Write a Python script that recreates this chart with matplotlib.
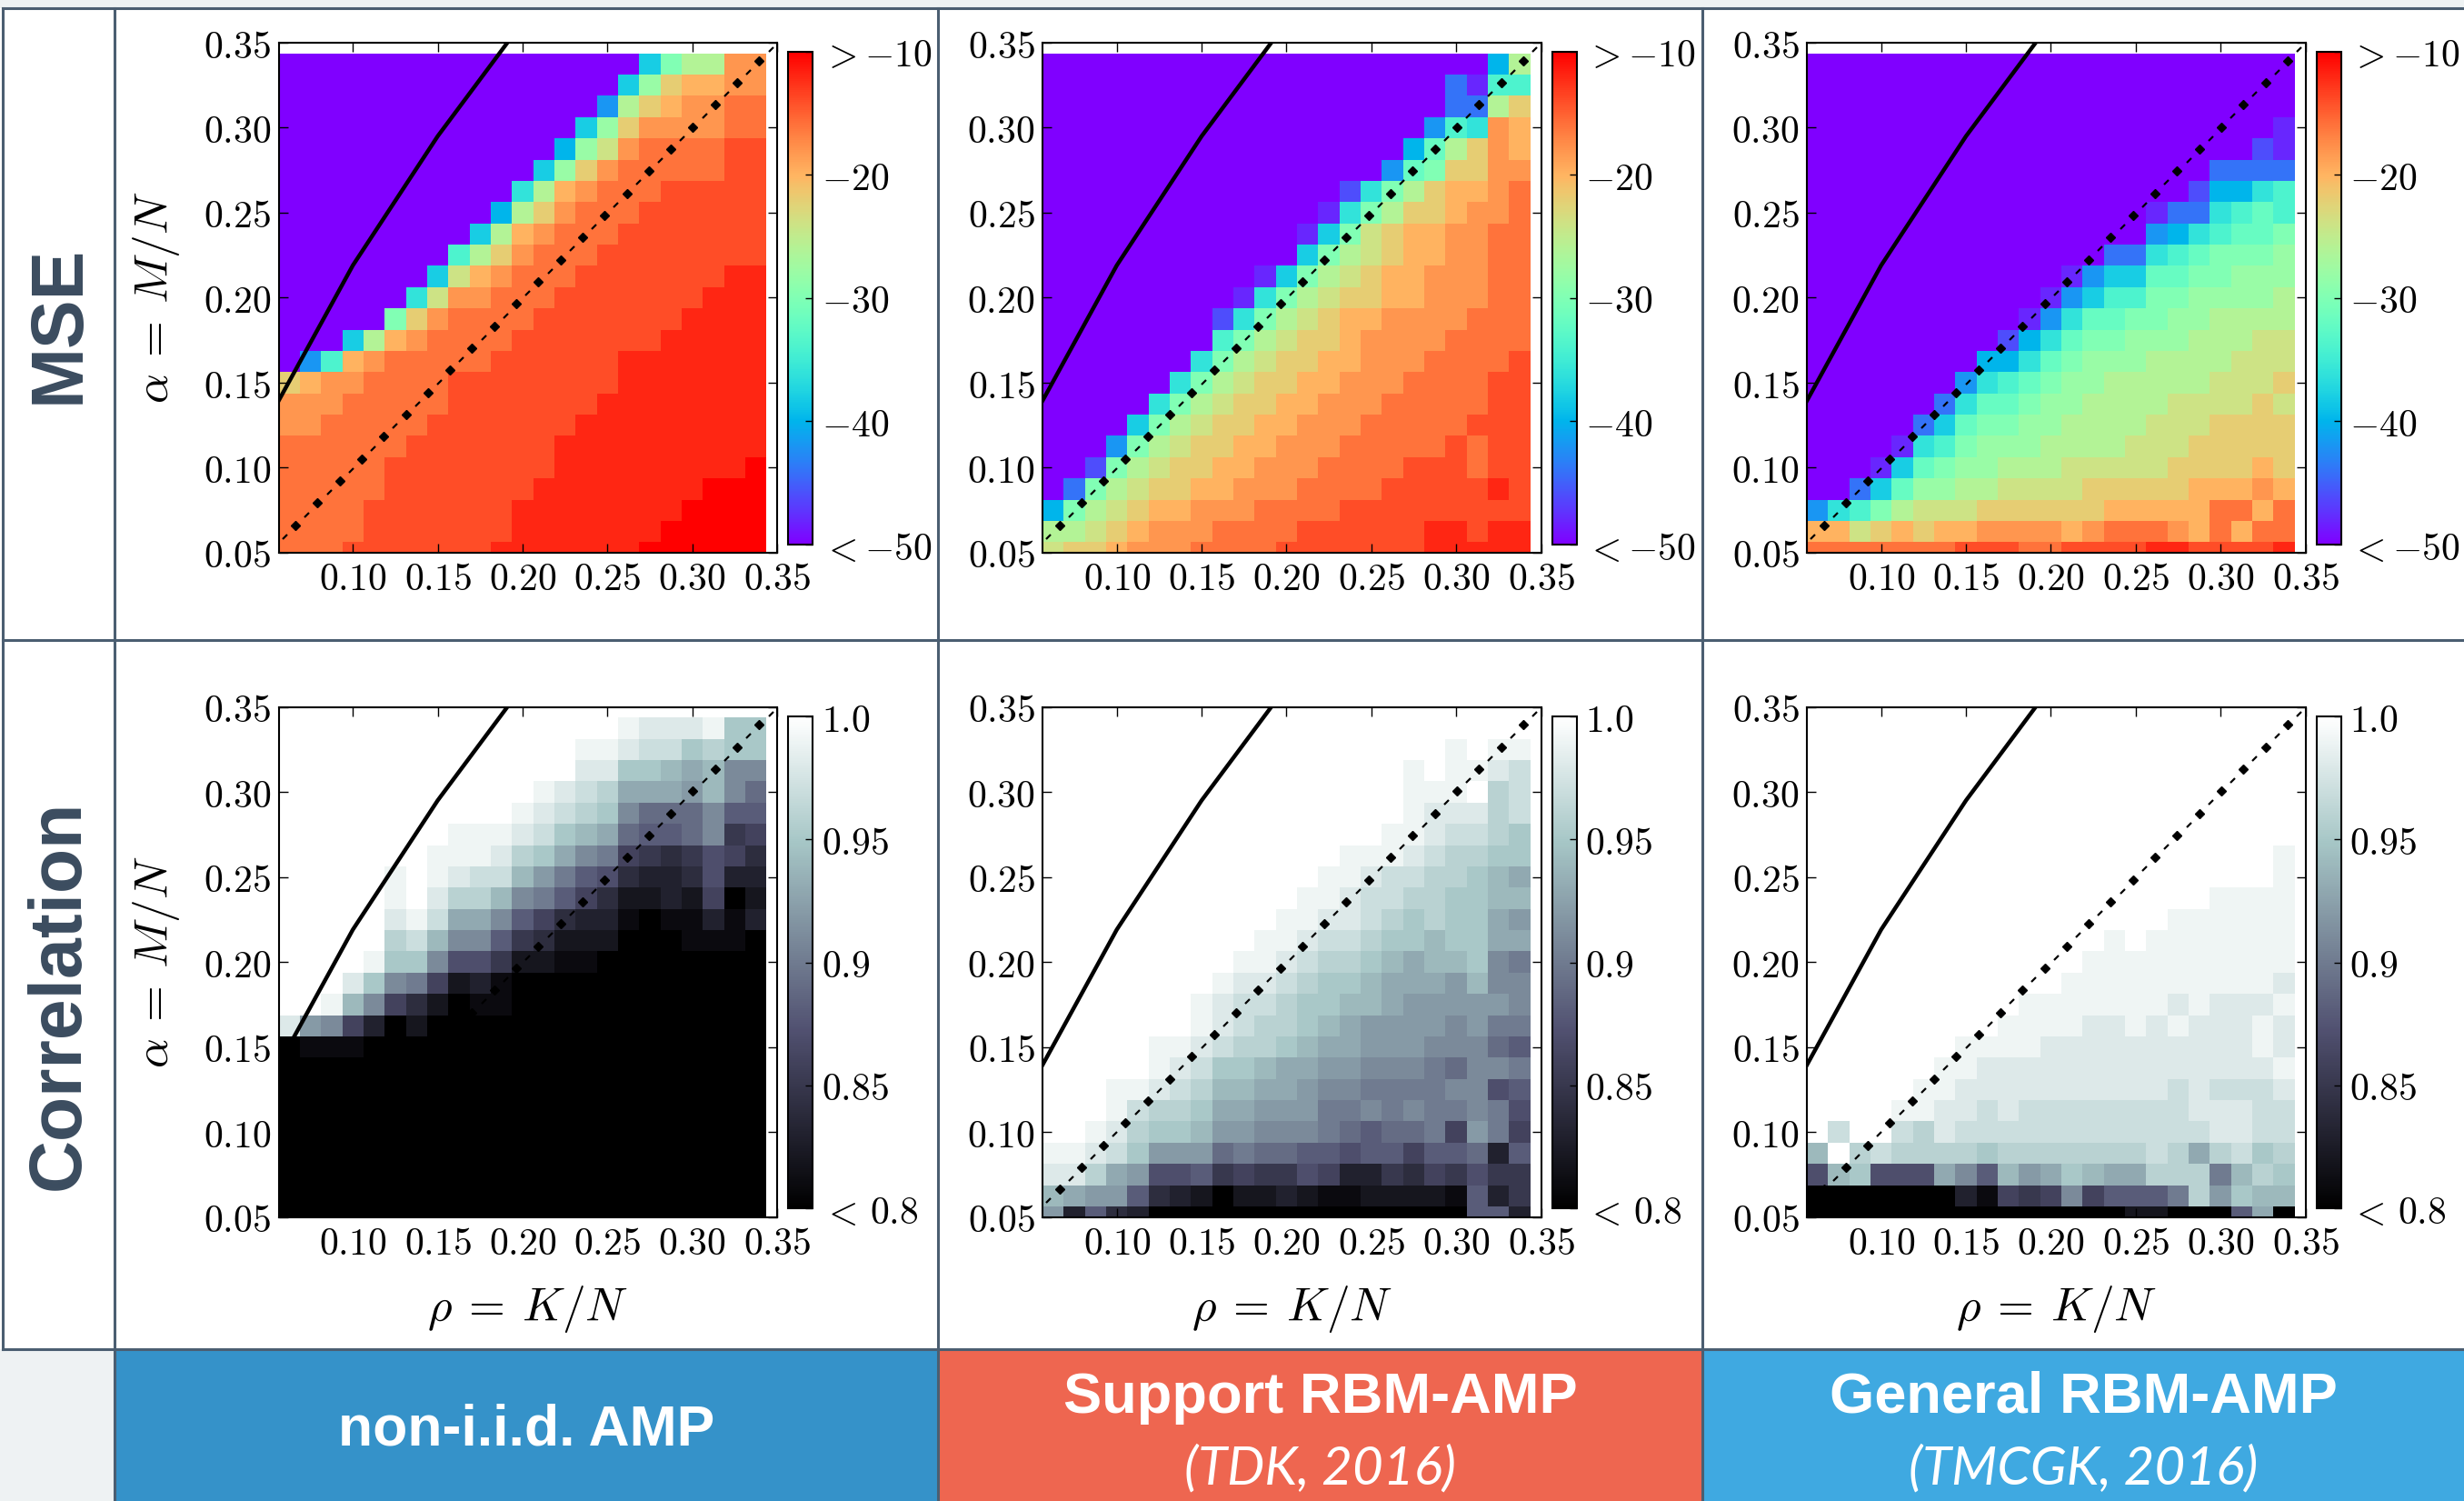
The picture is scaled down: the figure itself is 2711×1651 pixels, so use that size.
import numpy as np
import matplotlib
matplotlib.use("Agg")
import matplotlib.pyplot as plt
from matplotlib.lines import Line2D
from matplotlib.patches import Rectangle
from matplotlib.path import Path

plt.rcParams['mathtext.fontset'] = 'cm'
plt.rcParams['font.family'] = ['DejaVu Sans']

W, H = 2711, 1651

# phase diagram grid: rho = K/N along x, alpha = M/N along y
RHO = np.arange(23) * 0.0125 + 0.0625
ALPHA = np.arange(24) * 0.0125 + 0.05

# theoretical transition curve
RHO_LINE = [0.05, 0.10, 0.15, 0.20]
ALPHA_LINE = [0.128, 0.219, 0.295, 0.362]

# cell levels, one char per cell, rows listed from the top (alpha = 0.3375) down.
# short rows are padded on the left with the fill level of the panel.
LEVELS = "0123456789abcdefghijk"

# MSE in dB: level i -> -50 + 2 i
MSE_NONIID = [
    "6accgg", "6beffgg", "4cefgghh", "6begggghh", "5bdghhhhii", "6beghhhhhii",
    "7cfghhhiiiii", "5ceghhhiiiiii", "6cfghhhiiiiiii", "8ceghhhiiiiiiii",
    "6dfghhhiiiiiiijj", "7dgghhhiiiiiiijjj", "aeghhhhiiiiiiijjjj",
    "6cfghhhhiiiiiiijjjjj", "48fghhhhhiiiiiijjjjjjj",
    "efgghhhhiiiiiiiijjjjjjj", "ggghhhhhiiiiiiijjjjjjjj", "gghhhhhiiiiiiijjjjjjjjj",
    "hhhhhhiiiiiiijjjjjjjjjj", "hhhhhiiiiiiiijjjjjjjjjk", "hhhhhiiiiiiijjjjjjjjkkk",
    "hhhhiiiiiiijjjjjjjjkkkk", "hhhhiiiiiiijjjjjjjkkkkk", "hhhiiiiiiijjjjjjjkkkkkk",
]
MSE_SUPPORT = [
    "5c", "3188", "33ce", "487gf", "59cegf", "49aeegg", "27aceffgh", "17aceefggh",
    "16adeffgghh", "6acdeffgghh", "16acdeffggghh", "17acdeeffggghh",
    "27acdeffgggghhh", "8acdeefgggghhhh", "7acdeeffggghhhhi", "7acdeeffggghhhhii",
    "7acdeeffggghhhhhii", "6acdeeffggghhhhhiii", "4acdeeffggghhhhhihii",
    "2acdeeffggghhhhiiihii", "3acdeeffggghhhhiiiiiji", "5acdeffggghhhhiiiiiiiii",
    "ccdefggghhhhiiiiiijjijj", "deefggghhhhiiiiiiijjjjj",
]
MSE_GENERAL = [
    "", "", "", "1", "21", "3333", "25578", "1337898", "457899a", "33789aaab",
    "146699aabbb", "14688aabbbbc", "14799aabbcccc", "2579aabbbcccdd",
    "5579abbbccccddd", "4789abbcccccddde", "3799abbccccdddded",
    "369aabbccccdddeeee", "178abbbccccdddeeeee", "169abbcccdddddeeeefe",
    "369bbccddddeeeeefffgf", "478acdddeeeeeefffffhhfh", "ffdefeffggggfghhhgfhfhh",
    "hhhhhhhiiihhiiiijjiiiij",
]

# correlation: level i -> 0.80 + 0.01 i
CORR_NONIID = [
    "jiiijff", "jjihhfgff", "iiffedebb", "jihgdddceb9", "jihgfb999b88",
    "jjjihfed9889b56", "jjjigfdba6545764", "jkjihheca874334733",
    "jkiggeba8642232602", "ijhddb864331011313", "ghebb8542220001110",
    "jffb775221100000000", "ifba6231" + "0" * 12, "jeb6420110" + "0" * 11,
    "icb6302" + "0" * 16, "0111" + "0" * 19,
    "0" * 23, "0" * 23, "0" * 23, "0" * 23, "0" * 23, "0" * 23, "0" * 23, "0" * 23,
]
CORR_SUPPORT = [
    "", "jkjj", "jkjjih", "jjjkgh", "jiiigh", "jjihhgf", "jjjihggff", "jjihhggfed",
    "jjihhggffee", "jjiihgfgffdc", "jjihhgffeffdd", "jjihggfedeefba",
    "jiihgffedddcebb", "jihhgffeedcccccb", "jihggfedccccbcaa",
    "jjihggfeddcccbbb98", "jihffeddccbbba9bba", "jjihgeeddcbbaaaabb78",
    "jhggfddcccaababaaba7", "kkjigffeccbbba9899a6ca6", "jjihfccc9a9988788688938",
    "iigdc778565576335465755", "edcc8432022321122221835", "c3843" + "0" * 15 + "883",
]
CORR_GENERAL = [
    "", "", "", "", "", "", "j", "j", "jjjj", "jjjjjj", "jkjjjjjjj", "jjjjjjjjjj",
    "jjjjjjjjjji", "jjjjjjjijiiij", "jjjjiijijiiiji", "jjjjiiiiiiiiiiji",
    "jjiiiiiiiiiiiiiij", "jjiiiiiiiiiihihhhi", "jjiihihhhhhhhhiiihh",
    "khkkhgihhhhhhhhhhhhiihh", "ekghggggfggggggghgdghfg", "7ef777db8ecdfeddgggaegf",
    "0000000" + "31656b6888agcfee", "0" * 15 + "220008d0",
]

METHODS = ["non-i.i.d. AMP", "Support RBM-AMP", "General RBM-AMP"]
CITES = [None, "(TDK, 2016)", "(TMCGK, 2016)"]
BANNER_COLORS = ["#3592c9", "#ee6650", "#3fa9e1"]

MSE_TICKS = [-50, -40, -30, -20, -10]
MSE_TICKLABELS = [r"$<{-50}$", r"$-40$", r"$-30$", r"$-20$", r"$>{-10}$"]
CORR_TICKS = [0.8, 0.85, 0.9, 0.95, 1.0]
CORR_TICKLABELS = [r"$<\,0.8$", r"$0.85$", r"$0.9$", r"$0.95$", r"$1.0$"]
XTICKS = [0.10, 0.15, 0.20, 0.25, 0.30, 0.35]
YTICKS = [0.05, 0.10, 0.15, 0.20, 0.25, 0.30, 0.35]


def decode(rows, fill, lo, step):
    grid = []
    for r in rows:
        r = r.rjust(len(RHO), fill)
        if len(r) != len(RHO):
            raise ValueError(r)
        grid.append([lo + step * LEVELS.index(c) for c in r])
    return np.array(grid[::-1])


def frac(x0, y0, x1, y1):
    return [x0 / W, 1 - y1 / H, (x1 - x0) / W, (y1 - y0) / H]


SLATE = "#4b5e71"
PALE = "#eef2f3"
LABEL_COLOR = "#3b4c5f"
SANS = ["Liberation Sans", "DejaVu Sans"]

fig = plt.figure(figsize=(W / 100, H / 100), dpi=100)
fig.patch.set_facecolor("white")

# frame of the table
fig.add_artist(Rectangle((0, 1 - 9 / H), 1, 9 / H, transform=fig.transFigure,
                         facecolor=PALE, edgecolor="none", zorder=0))
fig.add_artist(Rectangle((0, 0), 126 / W, (H - 1484) / H, transform=fig.transFigure,
                         facecolor=PALE, edgecolor="none", zorder=0))
col_edges = [126, 1032, 1873, W]
for i in range(3):
    x0, x1 = col_edges[i], col_edges[i + 1]
    fig.add_artist(Rectangle((x0 / W, 0), (x1 - x0) / W, (H - 1484) / H,
                             transform=fig.transFigure, facecolor=BANNER_COLORS[i],
                             edgecolor="none", zorder=0))


def hline(y, x0, x1):
    fig.add_artist(Line2D([x0 / W, x1 / W], [1 - y / H, 1 - y / H],
                          transform=fig.transFigure, color=SLATE, lw=2.2))


def vline(x, y0, y1):
    fig.add_artist(Line2D([x / W, x / W], [1 - y0 / H, 1 - y1 / H],
                          transform=fig.transFigure, color=SLATE, lw=2.2))


hline(9, 3, W)
hline(704, 3, W)
hline(1484, 3, W)
vline(3, 9, 1484)
vline(126, 9, H)
vline(1032, 9, H)
vline(1873, 9, H)

fig.text(66 / W, 1 - 357 / H, "MSE", rotation=90, ha="center", va="center",
         family=SANS, weight="bold", size=58, color=LABEL_COLOR)
fig.text(66 / W, 1 - 1094 / H, "Correlation", rotation=90, ha="center", va="center",
         family=SANS, weight="bold", size=58, color=LABEL_COLOR)

for i in range(3):
    cx = (col_edges[i] + col_edges[i + 1]) / 2
    if CITES[i] is None:
        fig.text(cx / W, 1 - 1573 / H, METHODS[i], ha="center", va="center",
                 family=SANS, weight="bold", size=45, color="white")
    else:
        fig.text(cx / W, 1 - 1537 / H, METHODS[i], ha="center", va="center",
                 family=SANS, weight="bold", size=45.5, color="white")
        fig.text(cx / W, 1 - 1616 / H, CITES[i], ha="center", va="center",
                 family=["Lato", "Roboto", "DejaVu Sans"], weight="normal",
                 style="italic", size=42, color="white")

panels = [
    [decode(MSE_NONIID, "0", -50, 2), decode(MSE_SUPPORT, "0", -50, 2),
     decode(MSE_GENERAL, "0", -50, 2)],
    [decode(CORR_NONIID, "k", 0.8, 0.01), decode(CORR_SUPPORT, "k", 0.8, 0.01),
     decode(CORR_GENERAL, "k", 0.8, 0.01)],
]
row_cfg = [
    dict(cmap="rainbow", vmin=-50, vmax=-10, ticks=MSE_TICKS, labels=MSE_TICKLABELS),
    dict(cmap="bone", vmin=0.8, vmax=1.0, ticks=CORR_TICKS, labels=CORR_TICKLABELS),
]

ax_left = [306.5, 1147, 1988]
ax_w = 548.5
ax_top = [47, 777.6]
ax_h = 561
cb_top = [57, 788]
cb_bot = [599, 1329]

dash_marker = Path([(-1, -1), (1, 1)], [Path.MOVETO, Path.LINETO])
diamonds = np.linspace(0.0662, 0.3395, 22)
dashes = np.linspace(0.0597, 0.3460, 23)

for r in range(2):
    cfg = row_cfg[r]
    for c in range(3):
        x0 = ax_left[c]
        y0 = ax_top[r]
        ax = fig.add_axes(frac(x0, y0, x0 + ax_w, y0 + ax_h))
        mesh = ax.pcolormesh(RHO, ALPHA, panels[r][c], cmap=cfg["cmap"],
                             vmin=cfg["vmin"], vmax=cfg["vmax"], shading="nearest",
                             edgecolors="none", antialiased=False, rasterized=True)
        ax.plot(RHO_LINE, ALPHA_LINE, color="black", lw=3.2, solid_capstyle="butt")
        ax.plot(dashes, dashes, ls="none", marker=dash_marker, ms=3.6, mew=1.6,
                color="black")
        ax.plot(diamonds, diamonds, ls="none", marker="D", ms=5, color="black")
        ax.set_xlim(0.05625, 0.35)
        ax.set_ylim(0.05, 0.35)
        ax.set_xticks(XTICKS)
        ax.set_xticklabels([r"$%.2f$" % t for t in XTICKS])
        ax.set_yticks(YTICKS)
        ax.set_yticklabels([r"$%.2f$" % t for t in YTICKS])
        ax.tick_params(direction="in", top=True, right=True, length=7, width=1,
                       labelsize=30, pad=6)
        for s in ax.spines.values():
            s.set_linewidth(1.5)

        cb_x = x0 + ax_w + 12
        cax = fig.add_axes(frac(cb_x, cb_top[r], cb_x + 27, cb_bot[r]))
        cb = fig.colorbar(mesh, cax=cax, ticks=cfg["ticks"])
        cb.set_ticklabels(cfg["labels"])
        cb.outline.set_linewidth(1.5)
        cax.tick_params(direction="in", length=6, width=1, labelsize=30, pad=7)

        acx = x0 + ax_w / 2
        if r == 1:
            fig.text(acx / W, 1 - 1440 / H, r"$\rho\:=\:K/N$", ha="center",
                     va="center", size=37)
    fig.text(172 / W, 1 - (ax_top[r] + ax_h / 2) / H, r"$\alpha\:=\:M/N$",
             rotation=90, ha="center", va="center", size=37)

fig.savefig("out.png", dpi=100)
